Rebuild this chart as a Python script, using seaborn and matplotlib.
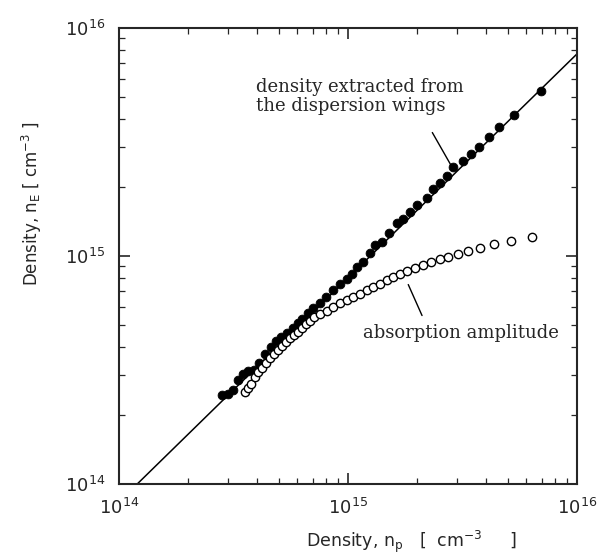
import numpy as np
import pandas as pd
import seaborn as sns
import matplotlib.pyplot as plt

# Values, in units of 1e15 cm^-3
disp_np = [0.282, 0.299, 0.315, 0.331, 0.348, 0.366, 0.389, 0.408, 0.434, 0.461,
           0.485, 0.509, 0.542, 0.575, 0.605, 0.630, 0.668, 0.703, 0.755, 0.802,
           0.859, 0.923, 0.991, 1.040, 1.094, 1.164, 1.247, 1.312, 1.406, 1.510,
           1.637, 1.738, 1.866, 2.000, 2.213, 2.350, 2.523, 2.704, 2.877, 3.177,
           3.443, 3.733, 4.130, 4.560, 5.309, 6.966]
disp_ne = [0.245, 0.248, 0.258, 0.286, 0.303, 0.313, 0.316, 0.340, 0.372, 0.399,
           0.424, 0.442, 0.459, 0.483, 0.508, 0.530, 0.562, 0.592, 0.622, 0.661,
           0.710, 0.753, 0.793, 0.834, 0.895, 0.942, 1.030, 1.117, 1.151, 1.262,
           1.396, 1.452, 1.560, 1.675, 1.795, 1.968, 2.089, 2.244, 2.455, 2.612,
           2.799, 3.006, 3.327, 3.681, 4.150, 5.297]

abs_np = [0.355, 0.366, 0.377, 0.393, 0.405, 0.421, 0.439, 0.456, 0.475, 0.494,
          0.515, 0.536, 0.558, 0.581, 0.605, 0.630, 0.656, 0.682, 0.711, 0.755,
          0.809, 0.859, 0.923, 0.991, 1.052, 1.127, 1.211, 1.285, 1.380, 1.479,
          1.574, 1.687, 1.811, 1.963, 2.128, 2.301, 2.523, 2.735, 3.020, 3.342,
          3.767, 4.345, 5.152, 6.353]
abs_ne = [0.254, 0.264, 0.275, 0.294, 0.310, 0.323, 0.340, 0.357, 0.372, 0.387,
          0.403, 0.420, 0.437, 0.451, 0.465, 0.483, 0.504, 0.519, 0.540, 0.557,
          0.574, 0.597, 0.622, 0.641, 0.661, 0.681, 0.710, 0.731, 0.753, 0.785,
          0.809, 0.834, 0.859, 0.885, 0.914, 0.942, 0.971, 0.991, 1.021, 1.052,
          1.084, 1.130, 1.164, 1.211]

# straight reference line
fit_np = [0.12, 10.0]
fit_ne = [0.10, 7.7]

SCALE = 1e15

disp = pd.DataFrame({"np": np.array(disp_np) * SCALE, "ne": np.array(disp_ne) * SCALE})
absn = pd.DataFrame({"np": np.array(abs_np) * SCALE, "ne": np.array(abs_ne) * SCALE})
fit = pd.DataFrame({"np": np.array(fit_np) * SCALE, "ne": np.array(fit_ne) * SCALE})

sns.set_style("ticks")
plt.rcParams['font.family'] = ['DejaVu Sans']
plt.rcParams['mathtext.fontset'] = 'custom'
plt.rcParams['mathtext.rm'] = 'DejaVu Serif'
plt.rcParams['mathtext.it'] = 'DejaVu Serif'
plt.rcParams['mathtext.default'] = 'regular'

fig = plt.figure(figsize=(5.98, 5.59), dpi=100)
ax = fig.add_axes([0.199, 0.134, 0.766, 0.816])

sns.lineplot(data=fit, x="np", y="ne", color="black", linewidth=1.1, ax=ax)
sns.scatterplot(data=disp, x="np", y="ne", marker="o", s=40, color="black",
                edgecolor="black", linewidth=0.6, ax=ax, zorder=3)
sns.scatterplot(data=absn, x="np", y="ne", marker="o", s=36, facecolor="white",
                edgecolor="black", linewidth=1.0, ax=ax, zorder=3)

ax.set_xscale("log")
ax.set_yscale("log")
ax.set_xlim(1e14, 1e16)
ax.set_ylim(1e14, 1e16)

for s in ax.spines.values():
    s.set_linewidth(1.5)
ax.tick_params(which="major", direction="in", length=8, width=1.2,
               top=True, right=True, labelsize=13, pad=10)
ax.tick_params(which="minor", direction="in", length=4, width=0.9,
               top=True, right=True)

ax.set_xlabel("Density, n$_{p}$   [  $cm^{-3}$     ]", fontsize=12.5)
ax.set_ylabel("Density, n$_{E}$ [ $cm^{-3}$ ]", fontsize=12)
ax.xaxis.set_label_coords(0.638, -0.098)
ax.yaxis.set_label_coords(-0.164, 0.616)

ax.text(0.299, 0.890, "density extracted from\nthe dispersion wings",
        transform=ax.transAxes, family="DejaVu Serif", fontsize=13,
        va="top", ha="left", linespacing=1.05)
ax.annotate("", xy=(0.727, 0.695), xytext=(0.681, 0.776), xycoords="axes fraction",
            arrowprops=dict(arrowstyle="-", color="black", linewidth=1.0))

ax.text(0.533, 0.331, "absorption amplitude", transform=ax.transAxes,
        family="DejaVu Serif", fontsize=13, va="center", ha="left")
ax.annotate("", xy=(0.629, 0.443), xytext=(0.664, 0.364), xycoords="axes fraction",
            arrowprops=dict(arrowstyle="-", color="black", linewidth=1.0))

fig.savefig("out.png", dpi=100)
